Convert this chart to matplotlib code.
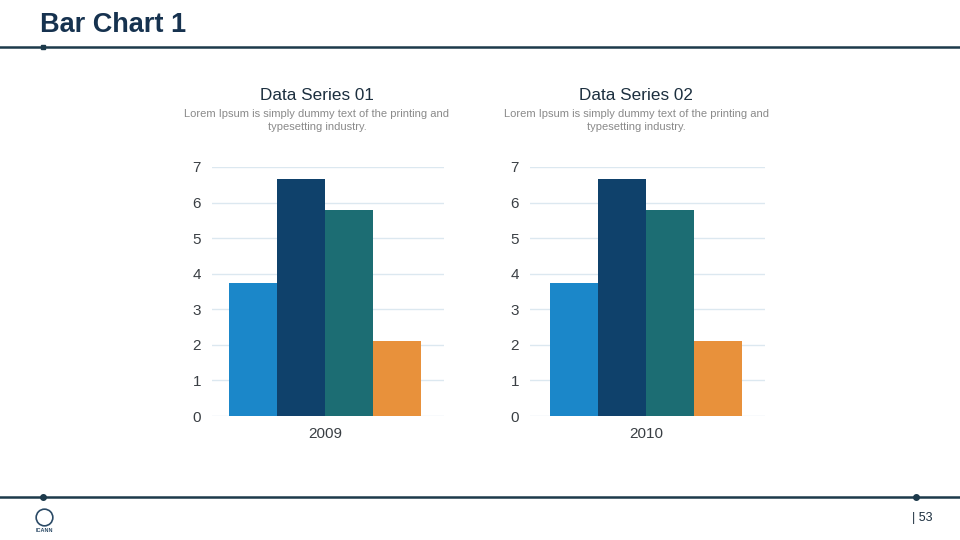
import matplotlib.pyplot as plt
from matplotlib.lines import Line2D

plt.rcParams['font.family'] = ['Liberation Sans', 'DejaVu Sans']

years = ['2009', '2010']
series_titles = ['Data Series 01', 'Data Series 02']
blurb = 'Lorem Ipsum is simply dummy text of the printing and\ntypesetting industry.'
values_2009 = [3.75, 6.65, 5.8, 2.1]
values_2010 = [3.75, 6.65, 5.8, 2.1]
bar_colors = ['#1b87c9', '#0f416b', '#1c6d73', '#e8913b']
yticks = [0, 1, 2, 3, 4, 5, 6, 7]

W, H = 960, 540
fig = plt.figure(figsize=(9.6, 5.4), dpi=100)
dark = '#1d3a4b'

def fx(px):
    return px / W

def fy(py):
    return 1 - py / H

# header
fig.text(fx(40), fy(25), 'Bar Chart 1', fontsize=19.5, fontweight='bold',
         color='#16324f', va='center', ha='left')
fig.add_artist(Line2D([0, 1], [fy(47), fy(47)], color=dark, lw=1.8))
fig.add_artist(Line2D([fx(43)], [fy(46.5)], marker='s', ms=3, color=dark))

# footer
fig.add_artist(Line2D([0, 1], [fy(497), fy(497)], color=dark, lw=1.8))
fig.add_artist(Line2D([fx(43), fx(916)], [fy(497), fy(497)], marker='o', ms=4,
                      lw=0, color=dark))
fig.text(fx(912), fy(518), '| 53', fontsize=9, color='#1c2f3f', va='center', ha='left')
fig.add_artist(Line2D([fx(44)], [fy(517)], marker='o', ms=12, mfc='none',
                      mec='#2b4a66', mew=1.2))
fig.text(fx(44), fy(531), 'ICANN', fontsize=4, color='#2b4a66', ha='center',
         va='center', fontweight='bold')

panels = [
    (212, 444, 229, 421, 317, years[0], series_titles[0], values_2009),
    (530, 765, 550, 742, 636, years[1], series_titles[1], values_2010),
]

for ax_l, ax_r, bar_l, bar_r, title_x, year, title, vals in panels:
    ax = fig.add_axes([fx(ax_l), fy(416), fx(ax_r - ax_l), (416 - 167) / H])
    n = len(vals)
    unit = (bar_r - bar_l)  # px for group span 1.0
    w = 1.0 / n
    xs = [-0.5 + w * (i + 0.5) for i in range(n)]
    ax.bar(xs, vals, width=w, color=bar_colors, zorder=3)
    center = (bar_l + bar_r) / 2
    ax.set_xlim(-(center - ax_l) / unit, (ax_r - center) / unit)
    ax.set_ylim(0, 7)
    ax.set_yticks(yticks)
    ax.set_yticklabels([str(t) for t in yticks])
    ax.set_xticks([0])
    ax.set_xticklabels([year])
    ax.grid(axis='y', color='#dce8f0', lw=1, zorder=0)
    ax.tick_params(axis='y', length=0, pad=8, labelsize=11, labelcolor='#3a3f44')
    ax.tick_params(axis='x', length=0, pad=8, labelsize=11, labelcolor='#3a3f44')
    for s in ax.spines.values():
        s.set_visible(False)
    ax.set_facecolor('none')
    fig.text(fx(title_x), fy(95), title, fontsize=12.3, color='#1c2f3f',
             ha='center', va='center')
    fig.text(fx(title_x), fy(120.5), blurb, fontsize=8, color='#8a8a8a',
             ha='center', va='center', linespacing=1.45)

fig.savefig('out.png', dpi=100)
